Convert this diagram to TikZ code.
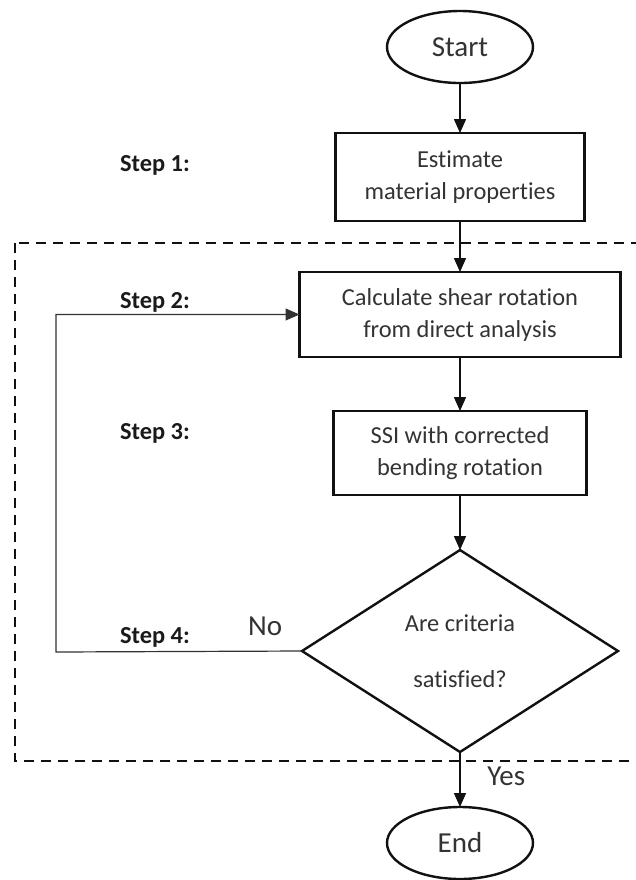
\documentclass[tikz,border=0pt]{standalone}
\usepackage{fontspec}
\setmainfont{Carlito}[Ligatures={NoCommon,NoContextual}]
\usetikzlibrary{positioning,arrows.meta,shapes.geometric}
\definecolor{fcText}{HTML}{333333}
\definecolor{fcLine}{HTML}{111111}
\definecolor{fcStep}{HTML}{1A1A1A}
\tikzset{
  fc-box/.style={
    draw=fcLine, line width=1.2pt, fill=white, text=fcText,
    font=\fontsize{12.2}{16}\selectfont, align=center, inner sep=2pt,
    outer sep=0pt
  },
  fc-term/.style={fc-box, ellipse, minimum width=73pt, minimum height=36pt,
    font=\fontsize{14.5}{17}\selectfont},
  fc-dec/.style={fc-box, diamond, aspect=1.6, minimum width=158pt,
    minimum height=101pt, inner sep=0pt},
  fc-flow/.style={-{Triangle[length=7pt,width=6pt]}, line width=0.75pt, draw=fcLine},
  fc-back/.style={fc-flow, line width=0.6pt, draw=fcText},
  fc-step/.style={font=\fontsize{12.2}{15}\selectfont\bfseries, text=fcStep},
  fc-ans/.style={font=\fontsize{14.5}{17}\selectfont, text=fcText},
  fc-zone/.style={dash pattern=on 5pt off 3.5pt, line width=1pt, draw=fcLine}
}

\begin{document}
\begin{tikzpicture}[x=0.5pt, y=-0.5pt]
\clip (0,0) rectangle (636,880);

% iteration zone
\draw[fc-zone] (15,243) rectangle (660,761);

\node[fc-term] (start) at (460,47) {Start};
\node[fc-box, minimum width=124.5pt, minimum height=44pt, below=25pt of start]
  (props) {Estimate\\material properties};
\node[fc-box, minimum width=160.5pt, minimum height=42.5pt, below=25.5pt of props]
  (calc) {Calculate shear rotation\\from direct analysis};
\node[fc-box, minimum width=126.5pt, minimum height=42pt, below=27pt of calc]
  (ssi) {SSI with corrected\\bending rotation};
\node[fc-dec, below=27.5pt of ssi] (check) {Are criteria\\[12pt]satisfied?};
\node[fc-term, below=27.5pt of check] (end) {End};

\node[fc-step] (s1) at (155,165) {Step 1:};
\node[fc-step] (s2) at (155,302) {Step 2:};
\node[fc-step] (s3) at (155,433) {Step 3:};
\node[fc-step] (s4) at (155,637) {Step 4:};

\coordinate (back) at (56,652);

\draw[fc-flow] (start) -- (props);
\draw[fc-flow] (props) -- (calc);
\draw[fc-flow] (calc) -- (ssi);
\draw[fc-flow] (ssi) -- (check);
\draw[fc-flow] (check) -- node[fc-ans, right=10pt, pos=0.45] {Yes} (end);
\draw[fc-back] (check.west) -- node[fc-ans, above, pos=0.15, yshift=4pt] {No} (back)
  |- (calc.west);
\end{tikzpicture}
\end{document}
